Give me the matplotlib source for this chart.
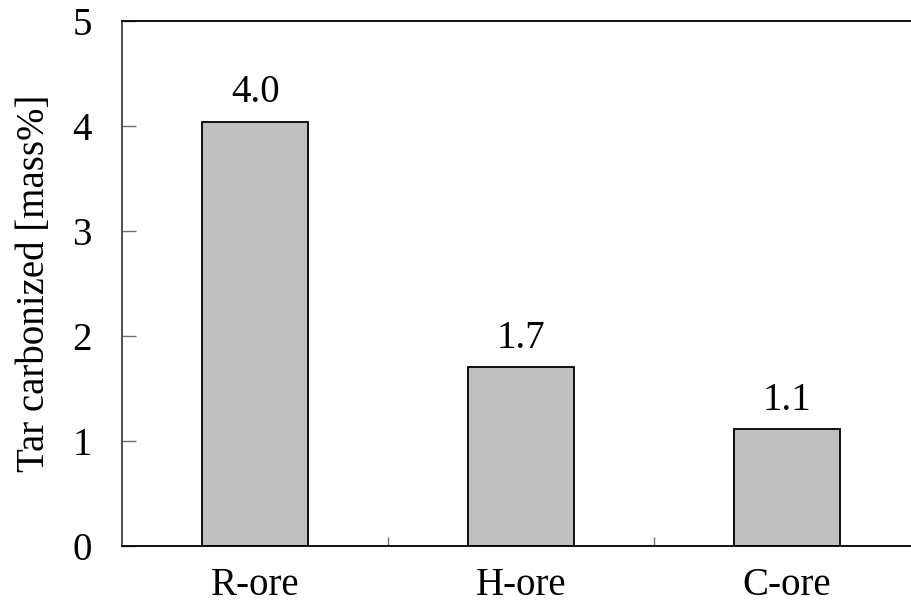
import matplotlib.pyplot as plt

plt.rcParams['font.family'] = ['Liberation Serif', 'DejaVu Serif']

# Datos
ores = ['R-ore', 'H-ore', 'C-ore']
tar_carbonized = [4.04, 1.70, 1.11]
bar_labels = ['4.0', '1.7', '1.1']

fig = plt.figure(figsize=(9.11, 6.07), dpi=100)
ax = fig.add_axes([122.3 / 911, 61.3 / 607, (920 - 122.3) / 911, (545.7 - 20.7) / 607])

x = list(range(len(ores)))
bars = ax.bar(x, tar_carbonized, width=0.4, color='#c0c0c0', edgecolor='black', linewidth=1.3)

for rect, lab in zip(bars, bar_labels):
    ax.annotate(lab, (rect.get_x() + rect.get_width() / 2, rect.get_height()),
                xytext=(0, 7.5), textcoords='offset points',
                ha='center', va='bottom', fontsize=28)

ax.set_xlim(-0.5, 2.5)
ax.set_ylim(0, 5)
ax.set_yticks([0, 1, 2, 3, 4, 5])
ax.set_xticks(x)
ax.set_xticklabels(ores)
ax.set_xticks([0.5, 1.5], minor=True)

ax.tick_params(axis='x', which='major', length=0, pad=15, labelsize=28)
ax.tick_params(axis='x', which='minor', direction='in', length=6.5, width=1, color='#707070')
ax.tick_params(axis='y', direction='in', length=10, width=1, color='#707070', pad=22, labelsize=28)

ax.set_ylabel('Tar carbonized [mass%]', fontsize=28, labelpad=14)

ax.spines['right'].set_visible(False)
ax.spines['left'].set_color('#404040')
ax.spines['left'].set_linewidth(1.3)
ax.spines['top'].set_linewidth(1.3)
ax.spines['bottom'].set_linewidth(1.3)

fig.savefig('out.png', dpi=100)
